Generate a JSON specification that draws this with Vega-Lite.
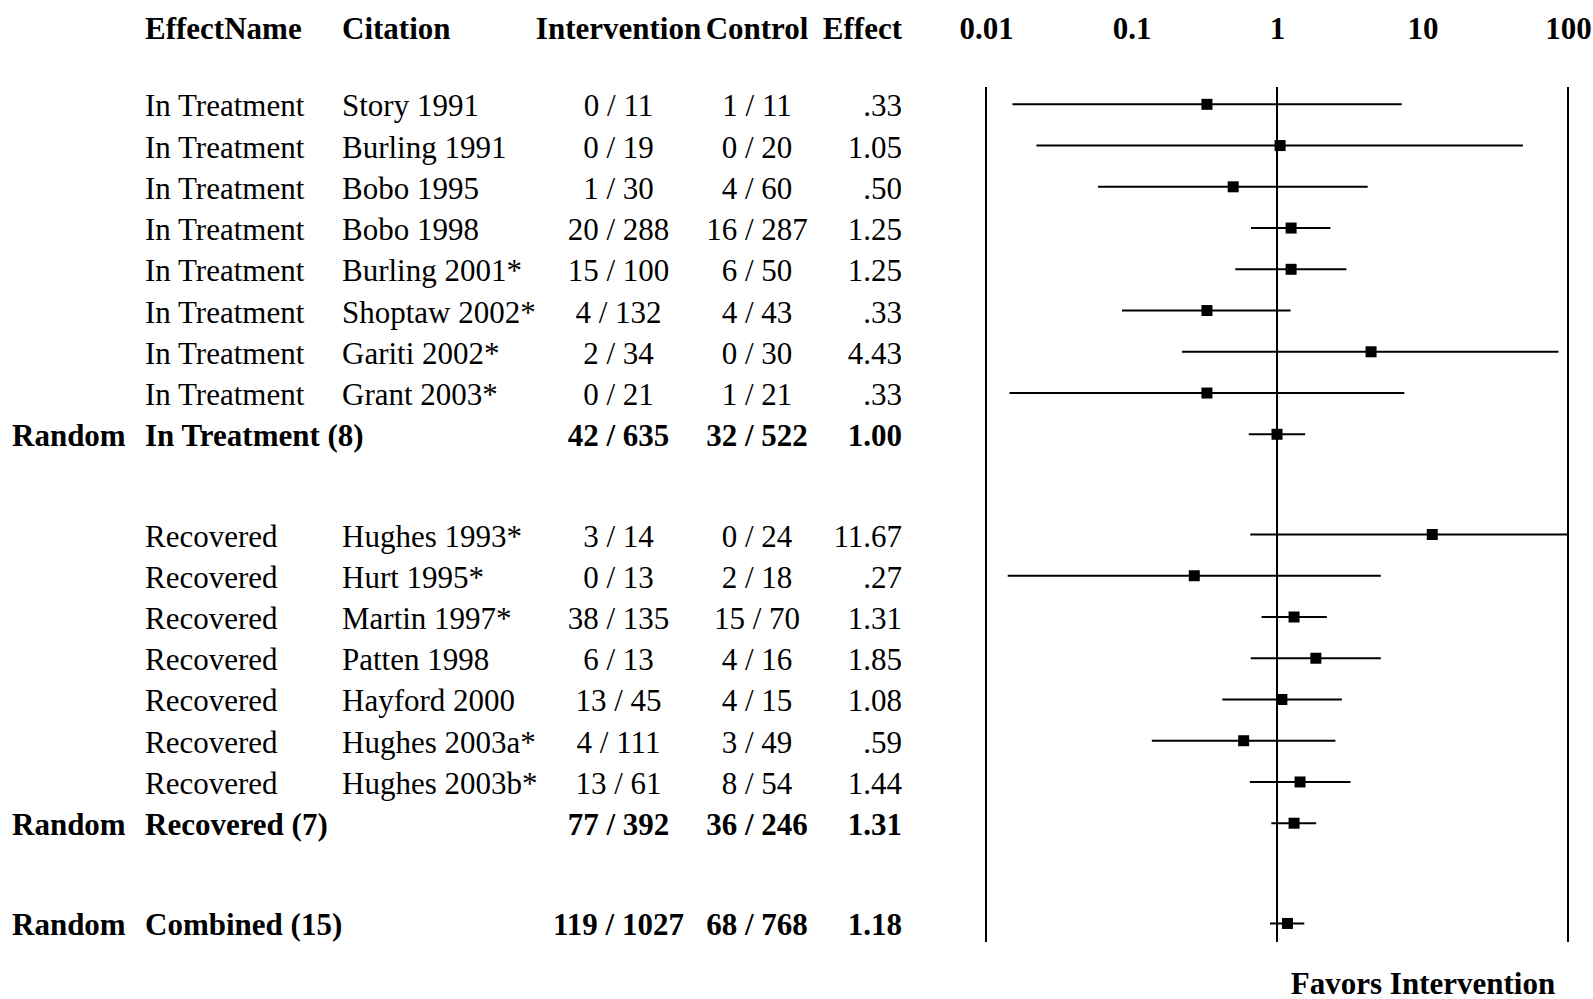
{
  "$schema": "https://vega.github.io/schema/vega-lite/v6.json",
  "padding": {"left": 12, "top": 13, "right": 0, "bottom": 0},
  "background": "white",
  "spacing": 0,
  "bounds": "flush",
  "data": {
    "values": [
      {"row": 1, "random": "", "effectName": "In Treatment", "citation": "Story 1991", "intervention": "0 / 11", "control": "1 / 11", "effectText": ".33", "effect": 0.33, "lo": 0.0152, "hi": 7.2, "summary": false},
      {"row": 2, "random": "", "effectName": "In Treatment", "citation": "Burling 1991", "intervention": "0 / 19", "control": "0 / 20", "effectText": "1.05", "effect": 1.05, "lo": 0.0222, "hi": 49, "summary": false},
      {"row": 3, "random": "", "effectName": "In Treatment", "citation": "Bobo 1995", "intervention": "1 / 30", "control": "4 / 60", "effectText": ".50", "effect": 0.5, "lo": 0.0589, "hi": 4.2, "summary": false},
      {"row": 4, "random": "", "effectName": "In Treatment", "citation": "Bobo 1998", "intervention": "20 / 288", "control": "16 / 287", "effectText": "1.25", "effect": 1.25, "lo": 0.663, "hi": 2.33, "summary": false},
      {"row": 5, "random": "", "effectName": "In Treatment", "citation": "Burling 2001*", "intervention": "15 / 100", "control": "6 / 50", "effectText": "1.25", "effect": 1.25, "lo": 0.517, "hi": 3.0, "summary": false},
      {"row": 6, "random": "", "effectName": "In Treatment", "citation": "Shoptaw 2002*", "intervention": "4 / 132", "control": "4 / 43", "effectText": ".33", "effect": 0.33, "lo": 0.086, "hi": 1.24, "summary": false},
      {"row": 7, "random": "", "effectName": "In Treatment", "citation": "Gariti 2002*", "intervention": "2 / 34", "control": "0 / 30", "effectText": "4.43", "effect": 4.43, "lo": 0.222, "hi": 86, "summary": false},
      {"row": 8, "random": "", "effectName": "In Treatment", "citation": "Grant 2003*", "intervention": "0 / 21", "control": "1 / 21", "effectText": ".33", "effect": 0.33, "lo": 0.0145, "hi": 7.5, "summary": false},
      {"row": 9, "random": "Random", "effectName": "In Treatment (8)", "citation": "", "intervention": "42 / 635", "control": "32 / 522", "effectText": "1.00", "effect": 1.0, "lo": 0.64, "hi": 1.56, "summary": true},
      {"row": 11.43, "random": "", "effectName": "Recovered", "citation": "Hughes 1993*", "intervention": "3 / 14", "control": "0 / 24", "effectText": "11.67", "effect": 11.67, "lo": 0.655, "hi": 208, "summary": false},
      {"row": 12.43, "random": "", "effectName": "Recovered", "citation": "Hurt 1995*", "intervention": "0 / 13", "control": "2 / 18", "effectText": ".27", "effect": 0.27, "lo": 0.0141, "hi": 5.17, "summary": false},
      {"row": 13.43, "random": "", "effectName": "Recovered", "citation": "Martin 1997*", "intervention": "38 / 135", "control": "15 / 70", "effectText": "1.31", "effect": 1.31, "lo": 0.784, "hi": 2.2, "summary": false},
      {"row": 14.43, "random": "", "effectName": "Recovered", "citation": "Patten 1998", "intervention": "6 / 13", "control": "4 / 16", "effectText": "1.85", "effect": 1.85, "lo": 0.66, "hi": 5.17, "summary": false},
      {"row": 15.43, "random": "", "effectName": "Recovered", "citation": "Hayford 2000", "intervention": "13 / 45", "control": "4 / 15", "effectText": "1.08", "effect": 1.08, "lo": 0.421, "hi": 2.79, "summary": false},
      {"row": 16.43, "random": "", "effectName": "Recovered", "citation": "Hughes 2003a*", "intervention": "4 / 111", "control": "3 / 49", "effectText": ".59", "effect": 0.59, "lo": 0.138, "hi": 2.52, "summary": false},
      {"row": 17.43, "random": "", "effectName": "Recovered", "citation": "Hughes 2003b*", "intervention": "13 / 61", "control": "8 / 54", "effectText": "1.44", "effect": 1.44, "lo": 0.651, "hi": 3.2, "summary": false},
      {"row": 18.43, "random": "Random", "effectName": "Recovered (7)", "citation": "", "intervention": "77 / 392", "control": "36 / 246", "effectText": "1.31", "effect": 1.31, "lo": 0.914, "hi": 1.86, "summary": true},
      {"row": 20.86, "random": "Random", "effectName": "Combined (15)", "citation": "", "intervention": "119 / 1027", "control": "68 / 768", "effectText": "1.18", "effect": 1.18, "lo": 0.895, "hi": 1.54, "summary": true}
    ]
  },
  "hconcat": [
    {
      "width": 133, "height": 855,
      "transform": [{"filter": "datum.summary"}],
      "mark": {"type": "text", "align": "left", "fontWeight": "bold"},
      "encoding": {
        "x": {"value": 0},
        "y": {"field": "row", "type": "quantitative", "scale": {"domain": [0.58, 21.31], "reverse": true, "nice": false, "zero": false}, "axis": null},
        "text": {"field": "random"}
      }
    },
    {
      "width": 197, "height": 855,
      "title": {"text": "EffectName", "anchor": "start"},
      "layer": [
        {
          "transform": [{"filter": "!datum.summary"}],
          "mark": {"type": "text", "align": "left"},
          "encoding": {
            "x": {"value": 0},
            "y": {"field": "row", "type": "quantitative", "scale": {"domain": [0.58, 21.31], "reverse": true, "nice": false, "zero": false}, "axis": null},
            "text": {"field": "effectName"}
          }
        },
        {
          "transform": [{"filter": "datum.summary"}],
          "mark": {"type": "text", "align": "left", "fontWeight": "bold"},
          "encoding": {
            "x": {"value": 0},
            "y": {"field": "row", "type": "quantitative", "scale": {"domain": [0.58, 21.31], "reverse": true, "nice": false, "zero": false}, "axis": null},
            "text": {"field": "effectName"}
          }
        }
      ]
    },
    {
      "width": 199, "height": 855,
      "title": {"text": "Citation", "anchor": "start"},
      "transform": [{"filter": "!datum.summary"}],
      "mark": {"type": "text", "align": "left"},
      "encoding": {
        "x": {"value": 0},
        "y": {"field": "row", "type": "quantitative", "scale": {"domain": [0.58, 21.31], "reverse": true, "nice": false, "zero": false}, "axis": null},
        "text": {"field": "citation"}
      }
    },
    {
      "width": 155, "height": 855,
      "title": {"text": "Intervention", "anchor": "middle"},
      "layer": [
        {
          "transform": [{"filter": "!datum.summary"}],
          "mark": {"type": "text", "align": "center"},
          "encoding": {
            "y": {"field": "row", "type": "quantitative", "scale": {"domain": [0.58, 21.31], "reverse": true, "nice": false, "zero": false}, "axis": null},
            "text": {"field": "intervention"}
          }
        },
        {
          "transform": [{"filter": "datum.summary"}],
          "mark": {"type": "text", "align": "center", "fontWeight": "bold"},
          "encoding": {
            "y": {"field": "row", "type": "quantitative", "scale": {"domain": [0.58, 21.31], "reverse": true, "nice": false, "zero": false}, "axis": null},
            "text": {"field": "intervention"}
          }
        }
      ]
    },
    {
      "width": 122, "height": 855,
      "title": {"text": "Control", "anchor": "middle"},
      "layer": [
        {
          "transform": [{"filter": "!datum.summary"}],
          "mark": {"type": "text", "align": "center"},
          "encoding": {
            "y": {"field": "row", "type": "quantitative", "scale": {"domain": [0.58, 21.31], "reverse": true, "nice": false, "zero": false}, "axis": null},
            "text": {"field": "control"}
          }
        },
        {
          "transform": [{"filter": "datum.summary"}],
          "mark": {"type": "text", "align": "center", "fontWeight": "bold"},
          "encoding": {
            "y": {"field": "row", "type": "quantitative", "scale": {"domain": [0.58, 21.31], "reverse": true, "nice": false, "zero": false}, "axis": null},
            "text": {"field": "control"}
          }
        }
      ]
    },
    {
      "width": 168, "height": 855,
      "title": {"text": "Effect", "anchor": "middle", "align": "right"},
      "layer": [
        {
          "transform": [{"filter": "!datum.summary"}],
          "mark": {"type": "text", "align": "right"},
          "encoding": {
            "y": {"field": "row", "type": "quantitative", "scale": {"domain": [0.58, 21.31], "reverse": true, "nice": false, "zero": false}, "axis": null},
            "text": {"field": "effectText"}
          }
        },
        {
          "transform": [{"filter": "datum.summary"}],
          "mark": {"type": "text", "align": "right", "fontWeight": "bold"},
          "encoding": {
            "y": {"field": "row", "type": "quantitative", "scale": {"domain": [0.58, 21.31], "reverse": true, "nice": false, "zero": false}, "axis": null},
            "text": {"field": "effectText"}
          }
        }
      ]
    },
    {
      "width": 582, "height": 855,
      "layer": [
        {
          "data": {"values": [{"ref": 0.01}, {"ref": 1}, {"ref": 100}]},
          "mark": {"type": "rule", "strokeWidth": 2, "color": "black"},
          "encoding": {
            "x": {"field": "ref", "type": "quantitative", "scale": {"type": "log", "domain": [0.01, 100], "clamp": true, "nice": false}, "axis": null}
          }
        },
        {
          "mark": {"type": "rule", "strokeWidth": 2, "color": "black"},
          "encoding": {
            "y": {"field": "row", "type": "quantitative", "scale": {"domain": [0.58, 21.31], "reverse": true, "nice": false, "zero": false}, "axis": null},
            "x": {"field": "lo", "type": "quantitative", "scale": {"type": "log", "domain": [0.01, 100], "clamp": true, "nice": false},
              "axis": {"orient": "top", "values": [0.01, 0.1, 1, 10, 100], "format": "~g", "domain": false, "ticks": false, "tickSize": 0, "grid": false, "labelFont": "Liberation Serif", "labelFontSize": 31, "labelFontWeight": "bold", "labelColor": "black", "labelPadding": 57.5, "labelBaseline": "middle", "labelFlush": false, "labelOverlap": false, "labelLimit": 0, "title": null}},
            "x2": {"field": "hi"}
          }
        },
        {
          "mark": {"type": "square", "size": 121, "color": "black", "opacity": 1},
          "encoding": {
            "y": {"field": "row", "type": "quantitative", "scale": {"domain": [0.58, 21.31], "reverse": true, "nice": false, "zero": false}, "axis": null},
            "x": {"field": "effect", "type": "quantitative", "scale": {"type": "log", "domain": [0.01, 100], "clamp": true, "nice": false},
              "axis": {"orient": "bottom", "values": [10], "labelExpr": "'Favors Intervention'", "domain": false, "ticks": false, "tickSize": 0, "grid": false, "labelFont": "Liberation Serif", "labelFontSize": 31, "labelFontWeight": "bold", "labelColor": "black", "labelPadding": 42, "labelBaseline": "middle", "labelFlush": false, "labelOverlap": false, "labelLimit": 0, "title": null}}
          }
        }
      ],
      "resolve": {"axis": {"x": "independent"}}
    }
  ],
  "config": {
    "view": {"stroke": null},
    "text": {"font": "Liberation Serif", "fontSize": 31, "baseline": "middle", "color": "black", "dy": 3},
    "title": {"font": "Liberation Serif", "fontSize": 31, "fontWeight": "bold", "color": "black", "baseline": "middle", "offset": 41}
  }
}
